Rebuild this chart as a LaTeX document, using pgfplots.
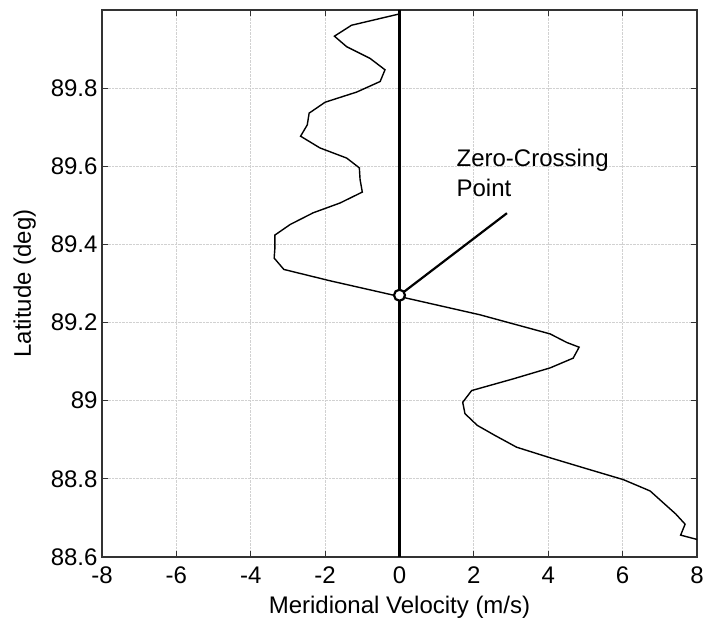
\documentclass[border=0pt]{standalone}
\usepackage{pgfplots}
\pgfplotsset{compat=1.18}
\usepackage{fontspec}
\setmainfont{Liberation Sans}
\begin{document}
\begin{tikzpicture}
\path[use as bounding box] (-102pt,-76pt) rectangle (604pt,557pt);
\begin{axis}[
  scale only axis,
  width=595pt, height=547pt,
  xmin=-8, xmax=8, ymin=88.6, ymax=90.0,
  xtick={-8,-6,...,8},
  ytick={88.6,88.8,89,89.2,89.4,89.6,89.8},
  yticklabels={88.6,88.8,89,89.2,89.4,89.6,89.8},
  xticklabels={-8,-6,-4,-2,0,2,4,6,8},
  tick align=inside,
  major tick length=6pt,
  tick style={line width=1.2pt, color=black!80},
  axis line style={line width=1.5pt, color=black!80},
  grid=major,
  major grid style={densely dotted, color=black!18, line width=0.8pt},
  font=\fontsize{24}{28}\selectfont,
  ticklabel style={font=\fontsize{24}{28}\selectfont},
  xticklabel style={yshift=-6pt},
  yticklabel style={xshift=-1pt},
  /pgf/number format/assume math mode=true,
  xlabel={Meridional Velocity (m/s)},
  ylabel={Latitude (deg)},
  xlabel style={yshift=-6pt},
  ylabel style={yshift=8pt},
  clip=true,
]
\addplot[black, line width=1.4pt] coordinates {
(0.0,89.99) (-1.29,89.961) (-1.75,89.933) (-1.42,89.906) (-0.79,89.876)
(-0.39,89.847) (-0.52,89.817) (-1.15,89.790) (-2.00,89.764) (-2.43,89.736)
(-2.48,89.706) (-2.66,89.677) (-2.14,89.647) (-1.42,89.621) (-1.08,89.596)
(-1.06,89.566) (-1.00,89.534) (-1.60,89.506) (-2.32,89.481) (-2.94,89.451)
(-3.35,89.424) (-3.35,89.392) (-3.37,89.365) (-3.11,89.336) (-1.87,89.307)
(2.16,89.220) (4.05,89.171) (4.50,89.149) (4.83,89.137) (4.67,89.109)
(4.05,89.084) (3.06,89.056) (1.94,89.026) (1.70,88.996) (1.76,88.967)
(2.09,88.937) (2.57,88.911) (3.15,88.881) (4.05,88.854) (5.03,88.826)
(6.02,88.798) (6.74,88.769) (7.09,88.739) (7.43,88.710) (7.68,88.684)
(7.56,88.656) (8.4,88.635)
};
\addplot[black, line width=3pt] coordinates {(0,88.6) (0,90.0)};
\draw[black, line width=2.2pt] (axis cs:0,89.27) -- (axis cs:2.89,89.48);
\addplot[only marks, mark=*, mark size=5.5pt, mark options={fill=white, draw=black, line width=2.2pt}] coordinates {(0,89.27)};
\node[anchor=north west, align=left, inner sep=0pt, font=\fontsize{24}{30}\selectfont] at (axis cs:1.53,89.645) {Zero-Crossing\\Point};
\end{axis}
\end{tikzpicture}
\end{document}
